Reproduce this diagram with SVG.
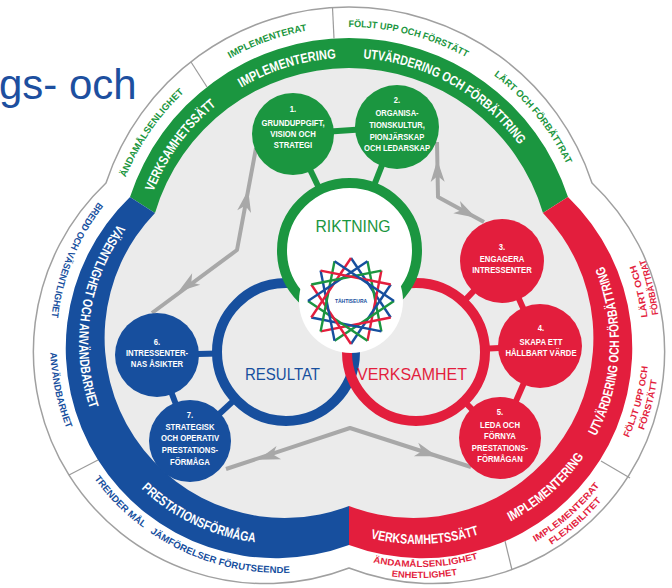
<svg xmlns="http://www.w3.org/2000/svg" width="672" height="588" viewBox="0 0 672 588">
<defs>
<style>
text{font-family:"Liberation Sans",Arial,Helvetica,sans-serif}
.bt{font-weight:bold;font-size:13.5px;fill:#fff;text-anchor:middle}
.wg{font-weight:bold;font-size:9.5px;fill:#1b9640;text-anchor:middle}
.wb{font-weight:bold;font-size:9.5px;fill:#174f9e;text-anchor:middle}
.wr{font-weight:bold;font-size:9px;fill:#e31e3d;text-anchor:middle}
.nt{font-weight:bold;font-size:8.4px;fill:#fff;text-anchor:middle}
.lbl{font-size:16.5px;text-anchor:middle}
.stub{stroke-width:6}
.arr{fill:none;stroke:#a8a8a8;stroke-width:4;stroke-linejoin:round}
.div{stroke:#9b9b9b;stroke-width:1.2}
.g{fill:#1b9640}.r{fill:#e31e3d}.b{fill:#174f9e}
.sg{stroke:#1b9640}.sr{stroke:#e31e3d}.sb{stroke:#174f9e}
</style>
<path id="W" d="M106,183 A255.8,255.8 0 0 1 592,183 A232,232 0 0 1 349,568 A232,232 0 0 1 106,183 Z"/>
<path id="O" d="M130,197 A230.3,230.3 0 0 1 568,197 A210,210 0 0 1 349,545 A210,210 0 0 1 130,197 Z"/>
<path id="I" d="M155,213 A202.3,202.3 0 0 1 543,213 A180,180 0 0 1 349,506 A180,180 0 0 1 155,213 Z"/>
<clipPath id="cG"><polygon points="349,337 -308,-83 -308,-400 1006,-400 1006,-83"/></clipPath>
<clipPath id="cB"><polygon points="349,337 -308,-83 -400,1000 349,1000"/></clipPath>
<clipPath id="cR"><polygon points="349,337 349,1000 1100,1000 1006,-83"/></clipPath>
<path id="gA" d="M200.5,119.5 A210,210 0 0 1 497.5,119.5"/>
<path id="gB" d="M178.6,97.6 A241,241 0 0 1 519.4,97.6"/>
<path id="bA" d="M137.9,485.1 A201,201 0 0 0 422.1,485.1"/>
<path id="bB" d="M117.4,505.6 A230,230 0 0 0 442.6,505.6"/>
<path id="rA" d="M275.9,485.1 A201,201 0 0 0 560.1,485.1"/>
<path id="r224" d="M259.6,501.4 A224,224 0 0 0 576.4,501.4"/>
<path id="r235" d="M251.8,509.2 A235,235 0 0 0 584.2,509.2"/>
<path id="r231" d="M254.7,506.3 A231,231 0 0 0 581.3,506.3"/>
<path id="r242" d="M246.9,514.1 A242,242 0 0 0 589.1,514.1"/>
<path id="ah" d="M0,0 L-22,-7 L-16,0 L-22,7 Z" fill="#a8a8a8"/>
</defs>
<rect width="672" height="588" fill="#fff"/>
<text x="-1" y="99" font-size="42" fill="#1d4f9f">gs- och</text>

<g id="ring">
<use href="#W" fill="#fff" stroke="#a0a0a0" stroke-width="1.5"/>
<use href="#O" fill="#1b9640" clip-path="url(#cG)"/>
<use href="#O" fill="#174f9e" clip-path="url(#cB)"/>
<use href="#O" fill="#e31e3d" clip-path="url(#cR)"/>
<use href="#I" fill="#ebebeb"/>
<line class="div" x1="207" y1="87" x2="191" y2="62"/>
<line class="div" x1="334" y1="38.5" x2="332.5" y2="7.5"/>
<line class="div" x1="601" y1="461" x2="630" y2="478"/>
<line class="div" x1="505" y1="541" x2="512" y2="570"/>
<line class="div" x1="98" y1="460" x2="69" y2="475"/>
</g>

<g id="ring-labels">
<text class="bt" transform="rotate(-54 349 268)"><textPath href="#gA" startOffset="50%" textLength="108" lengthAdjust="spacingAndGlyphs">VERKSAMHETSSÄTT</textPath></text>
<text class="bt" transform="rotate(-17.2 349 268)"><textPath href="#gA" startOffset="50%" textLength="100" lengthAdjust="spacingAndGlyphs">IMPLEMENTERING</textPath></text>
<text class="bt" transform="rotate(29 349 268)"><textPath href="#gA" startOffset="50%" textLength="184" lengthAdjust="spacingAndGlyphs">UTVÄRDERING OCH FÖRBÄTTRING</textPath></text>
<text class="wg" transform="rotate(-55.6 349 268)"><textPath href="#gB" startOffset="50%" textLength="104" lengthAdjust="spacingAndGlyphs">ÄNDAMÅLSENLIGHET</textPath></text>
<text class="wg" transform="rotate(-19.8 349 268)"><textPath href="#gB" startOffset="50%" textLength="82" lengthAdjust="spacingAndGlyphs">IMPLEMENTERAT</textPath></text>
<text class="wg" transform="rotate(14.5 349 268)"><textPath href="#gB" startOffset="50%" textLength="123" lengthAdjust="spacingAndGlyphs">FÖLJT UPP OCH FÖRSTÄTT</textPath></text>
<text class="wg" transform="rotate(50.7 349 268)"><textPath href="#gB" startOffset="50%" textLength="116" lengthAdjust="spacingAndGlyphs">LÄRT OCH FÖRBÄTTRAT</textPath></text>

<text class="bt" transform="rotate(98.6 280 343)"><textPath href="#bA" startOffset="50%" textLength="194" lengthAdjust="spacingAndGlyphs">VÄSENTLIGHET OCH ANVÄNDBARHET</textPath></text>
<text class="bt" transform="rotate(25.4 280 343)"><textPath href="#bA" startOffset="50%" textLength="128" lengthAdjust="spacingAndGlyphs">PRESTATIONSFÖRMÅGA</textPath></text>
<text class="wb" transform="rotate(112.1 280 343)"><textPath href="#bB" startOffset="50%" textLength="126" lengthAdjust="spacingAndGlyphs">BREDD OCH VÄSENTLIGHET</textPath></text>
<text class="wb" transform="rotate(77.9 280 343)"><textPath href="#bB" startOffset="50%" textLength="78" lengthAdjust="spacingAndGlyphs">ANVÄNDBARHET</textPath></text>
<text class="wb" transform="rotate(45.2 280 343)"><textPath href="#bB" startOffset="50%" textLength="70" lengthAdjust="spacingAndGlyphs">TRENDER MÅL</textPath></text>
<text class="wb" transform="rotate(16 280 343)"><textPath href="#bB" startOffset="50%" textLength="148" lengthAdjust="spacingAndGlyphs">JÄMFÖRELSER FÖRUTSEENDE</textPath></text>

<text class="bt" transform="rotate(-87.45 418 343)"><textPath href="#rA" startOffset="50%" textLength="176" lengthAdjust="spacingAndGlyphs">UTVÄRDERING OCH FÖRBÄTTRING</textPath></text>
<text class="bt" transform="rotate(-41.5 418 343)"><textPath href="#rA" startOffset="50%" textLength="99" lengthAdjust="spacingAndGlyphs">IMPLEMENTERING</textPath></text>
<text class="bt" transform="rotate(-2 418 343)"><textPath href="#rA" startOffset="50%" textLength="110" lengthAdjust="spacingAndGlyphs">VERKSAMHETSSÄTT</textPath></text>
<text class="wr" transform="rotate(-2 418 343)"><textPath href="#r224" startOffset="50%" textLength="106" lengthAdjust="spacingAndGlyphs">ÄNDAMÅLSENLIGHET</textPath></text>
<text class="wr" transform="rotate(-1.6 418 343)"><textPath href="#r235" startOffset="50%" textLength="66" lengthAdjust="spacingAndGlyphs">ENHETLIGHET</textPath></text>
<text class="wr" transform="rotate(-41.2 418 343)"><textPath href="#r231" startOffset="50%" textLength="86" lengthAdjust="spacingAndGlyphs">IMPLEMENTERAT</textPath></text>
<text class="wr" transform="rotate(-41.4 418 343)"><textPath href="#r242" startOffset="50%" textLength="67" lengthAdjust="spacingAndGlyphs">FLEXIBILITET</textPath></text>
<text class="wr" transform="rotate(-75 418 343)"><textPath href="#r231" startOffset="50%" textLength="74" lengthAdjust="spacingAndGlyphs">FÖLJT UPP OCH</textPath></text>
<text class="wr" transform="rotate(-75 418 343)"><textPath href="#r242" startOffset="50%" textLength="52" lengthAdjust="spacingAndGlyphs">FÖRSTÄTT</textPath></text>
<text class="wr" transform="rotate(-103.1 418 343)"><textPath href="#r231" startOffset="50%" textLength="54" lengthAdjust="spacingAndGlyphs">LÄRT OCH</textPath></text>
<text class="wr" transform="rotate(-103.5 418 343)"><textPath href="#r242" startOffset="50%" textLength="57" lengthAdjust="spacingAndGlyphs">FÖRBÄTTRAT</textPath></text>
</g>

<g id="connectors">
<path class="arr" d="M152,313 L237,250 L256,148"/>
<path class="arr" d="M437,142 L438,197 L484,222"/>
<path class="arr" d="M226,469 L350,428 L471,467"/>
<use href="#ah" transform="translate(178.3 291.8) rotate(144.5)"/>
<use href="#ah" transform="translate(248.2 190) rotate(-79.4)"/>
<use href="#ah" transform="translate(437.3 160) rotate(-91)"/>
<use href="#ah" transform="translate(476 217.7) rotate(28.5)"/>
<use href="#ah" transform="translate(258 459.7) rotate(161)"/>
<use href="#ah" transform="translate(437 456.3) rotate(18)"/>
<line class="stub sg" x1="293" y1="134" x2="397" y2="127"/>
<line class="stub sg" x1="319.6" y1="189.2" x2="293" y2="134"/>
<line class="stub sg" x1="373.4" y1="187.1" x2="397" y2="127"/>
<line class="stub sr" x1="462.7" y1="302.6" x2="502" y2="261"/>
<line class="stub sr" x1="484" y1="348.7" x2="540" y2="346"/>
<line class="stub sr" x1="463.5" y1="400.6" x2="500" y2="438"/>
<line class="stub sr" x1="502" y1="261" x2="540" y2="346"/>
<line class="stub sr" x1="540" y1="346" x2="500" y2="438"/>
<line class="stub sb" x1="218" y1="353.6" x2="157" y2="355"/>
<line class="stub sb" x1="236.2" y1="398.2" x2="190" y2="441"/>
<line class="stub sb" x1="157" y1="355" x2="190" y2="441"/>
</g>

<g id="resultat">
<circle cx="286" cy="352" r="69" fill="none" stroke="#174f9e" stroke-width="10"/>
</g>
<g id="verksamhet">
<circle cx="416" cy="352" r="69" fill="none" stroke="#e31e3d" stroke-width="10"/>
</g>
<g id="riktning">
<circle cx="349.5" cy="250.5" r="67.5" fill="#fff" stroke="#1b9640" stroke-width="10"/>
<text class="lbl" x="353" y="232" fill="#1b9640" textLength="75" lengthAdjust="spacingAndGlyphs">RIKTNING</text>
</g>
<text class="lbl" x="282.5" y="380" fill="#174f9e" textLength="75" lengthAdjust="spacingAndGlyphs">RESULTAT</text>
<text class="lbl" x="412" y="380" fill="#e31e3d" textLength="110" lengthAdjust="spacingAndGlyphs">VERKSAMHET</text>

<g id="logo">
<circle cx="351" cy="301" r="52" fill="#fff"/>
<g stroke-width="2.4" stroke-linecap="butt">
<line class="sb" x1="351" y1="258" x2="390.73" y2="317.46"/>
<line class="sg" x1="367.46" y1="261.27" x2="381.41" y2="331.41"/>
<line class="sr" x1="381.41" y1="270.59" x2="367.46" y2="340.73"/>
<line class="sb" x1="390.73" y1="284.54" x2="351" y2="344"/>
<line class="sg" x1="394" y1="301" x2="334.54" y2="340.73"/>
<line class="sr" x1="390.73" y1="317.46" x2="320.59" y2="331.41"/>
<line class="sb" x1="381.41" y1="331.41" x2="311.27" y2="317.46"/>
<line class="sg" x1="367.46" y1="340.73" x2="308" y2="301"/>
<line class="sr" x1="351" y1="344" x2="311.27" y2="284.54"/>
<line class="sb" x1="334.54" y1="340.73" x2="320.59" y2="270.59"/>
<line class="sg" x1="320.59" y1="331.41" x2="334.54" y2="261.27"/>
<line class="sr" x1="311.27" y1="317.46" x2="351" y2="258"/>
<line class="sb" x1="308" y1="301" x2="367.46" y2="261.27"/>
<line class="sg" x1="311.27" y1="284.54" x2="381.41" y2="270.59"/>
<line class="sr" x1="320.59" y1="270.59" x2="390.73" y2="284.54"/>
<line class="sb" x1="334.54" y1="261.27" x2="394" y2="301"/>
</g>
<text x="351" y="303" font-size="5" font-weight="bold" fill="#174f9e" text-anchor="middle">TÄHTISEURA</text>
</g>

<g id="node-1">
<circle cx="293" cy="134" r="41" class="g"/>
<g transform="translate(293 0) scale(0.92 1)"><text class="nt"><tspan x="0" y="112">1.</tspan><tspan x="0" y="126">GRUNDUPPGIFT,</tspan><tspan x="0" y="137">VISION OCH</tspan><tspan x="0" y="148">STRATEGI</tspan></text></g>
</g>
<g id="node-2">
<circle cx="397" cy="127" r="42" class="g"/>
<g transform="translate(397 0) scale(0.9 1)"><text class="nt"><tspan x="0" y="103">2.</tspan><tspan x="0" y="116.5">ORGANISA-</tspan><tspan x="0" y="128">TIONSKULTUR,</tspan><tspan x="0" y="140">PIONJÄRSKAP</tspan><tspan x="0" y="151">OCH LEDARSKAP</tspan></text></g>
</g>
<g id="node-3">
<circle cx="502" cy="261" r="42" class="r"/>
<g transform="translate(502 0) scale(0.92 1)"><text class="nt"><tspan x="0" y="250">3.</tspan><tspan x="0" y="262.5">ENGAGERA</tspan><tspan x="0" y="273.5">INTRESSENTER</tspan></text></g>
</g>
<g id="node-4">
<circle cx="540" cy="346" r="42" class="r"/>
<g transform="translate(541 0) scale(0.92 1)"><text class="nt"><tspan x="0" y="331.5">4.</tspan><tspan x="0" y="345">SKAPA ETT</tspan><tspan x="0" y="356.5">HÅLLBART VÄRDE</tspan></text></g>
</g>
<g id="node-5">
<circle cx="500" cy="438" r="41" class="r"/>
<g transform="translate(500 0) scale(0.92 1)"><text class="nt"><tspan x="0" y="415">5.</tspan><tspan x="0" y="428">LEDA OCH</tspan><tspan x="0" y="439.5">FÖRNYA</tspan><tspan x="0" y="451">PRESTATIONS-</tspan><tspan x="0" y="462">FÖRMÅGAN</tspan></text></g>
</g>
<g id="node-6">
<circle cx="157" cy="355" r="42" class="b"/>
<g transform="translate(157 0) scale(0.92 1)"><text class="nt"><tspan x="0" y="345">6.</tspan><tspan x="0" y="356.5">INTRESSENTER-</tspan><tspan x="0" y="367.5">NAS ÅSIKTER</tspan></text></g>
</g>
<g id="node-7">
<circle cx="190" cy="441" r="41" class="b"/>
<g transform="translate(190 0) scale(0.92 1)"><text class="nt"><tspan x="0" y="418">7.</tspan><tspan x="0" y="430">STRATEGISK</tspan><tspan x="0" y="441.5">OCH OPERATIV</tspan><tspan x="0" y="453">PRESTATIONS-</tspan><tspan x="0" y="465">FÖRMÅGA</tspan></text></g>
</g>
</svg>
